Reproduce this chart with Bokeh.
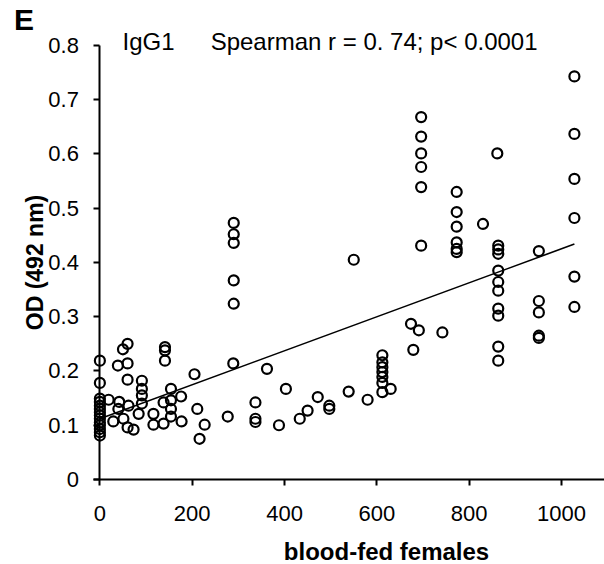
from bokeh.plotting import figure
from bokeh.models import Range1d, Label, FixedTicker, CustomJSTickFormatter
from bokeh.embed import file_html
from bokeh.resources import INLINE

# ---- data ----
blood_fed = [
    0, 0, 0, 0, 0, 0, 0, 0, 0, 0, 0, 0, 0, 0,
    19, 29, 39, 40, 42, 50, 51, 60, 60, 60, 62, 60, 73, 84,
    91, 91, 91, 91, 116, 116, 138, 138, 141, 141, 141,
    154, 154, 154, 154, 176, 177, 205, 211, 216, 227, 277, 289,
    290, 290, 290, 290, 290,
    337, 337, 337, 362, 388, 403, 433, 450, 472, 497, 497, 539, 550, 580,
    612, 612, 612, 612, 612, 612, 612, 630, 674, 679, 691,
    696, 696, 696, 696, 696, 696, 742,
    773, 773, 773, 773, 773, 773, 830, 861,
    863, 863, 863, 863, 863, 863, 863, 863, 863, 863,
    951, 951, 951, 951, 951,
    1028, 1028, 1028, 1028, 1028, 1028,
]
od_492 = [
    0.219, 0.178, 0.149, 0.143, 0.136, 0.130, 0.124, 0.118, 0.112, 0.105, 0.100, 0.093, 0.087, 0.081,
    0.147, 0.107, 0.210, 0.130, 0.143, 0.240, 0.112, 0.250, 0.214, 0.184, 0.136, 0.096, 0.092, 0.121,
    0.182, 0.167, 0.155, 0.140, 0.121, 0.101, 0.142, 0.103, 0.244, 0.238, 0.219,
    0.167, 0.146, 0.130, 0.116, 0.153, 0.107, 0.194, 0.130, 0.075, 0.101, 0.116, 0.214,
    0.473, 0.452, 0.436, 0.367, 0.324,
    0.142, 0.112, 0.106, 0.204, 0.100, 0.167, 0.112, 0.127, 0.152, 0.136, 0.130, 0.162, 0.405, 0.147,
    0.229, 0.216, 0.207, 0.198, 0.189, 0.178, 0.161, 0.167, 0.287, 0.239, 0.275,
    0.668, 0.632, 0.601, 0.576, 0.539, 0.431, 0.271,
    0.530, 0.493, 0.466, 0.437, 0.425, 0.419, 0.471, 0.601,
    0.431, 0.424, 0.416, 0.385, 0.364, 0.348, 0.315, 0.302, 0.245, 0.219,
    0.421, 0.329, 0.308, 0.265, 0.261,
    0.743, 0.637, 0.554, 0.482, 0.374, 0.318,
]
fit_x = [0, 1028]
fit_y = [0.112, 0.434]

x_ticks = [0, 200, 400, 600, 800, 1000]
y_ticks = [0, 0.1, 0.2, 0.3, 0.4, 0.5, 0.6, 0.7, 0.8]

panel_letter = "E"
isotype = "IgG1"
stats_text = "Spearman r = 0. 74; p< 0.0001"
x_title = "blood-fed females"
y_title = "OD (492 nm)"

FONT = "Liberation Sans"

# the frame covers the whole canvas; axes sit at fixed data locations
p = figure(width=604, height=564, output_backend="svg", toolbar_location=None,
           title_location=None,
           x_range=Range1d(-215.3, 1093.2), y_range=Range1d(-0.1567, 0.8829),
           min_border_left=0, min_border_right=0, min_border_top=0,
           min_border_bottom=0)

p.xgrid.visible = False
p.ygrid.visible = False
p.outline_line_color = None
p.background_fill_color = "white"
p.border_fill_color = "white"

p.xaxis.fixed_location = 0
p.yaxis.fixed_location = 0
p.xaxis.bounds = (-14, 1093.2)
p.yaxis.bounds = (0, 0.8)

for ax in (p.xaxis, p.yaxis):
    ax.axis_line_width = 2
    ax.axis_line_color = "black"
    ax.major_tick_line_width = 2
    ax.major_tick_line_color = "black"
    ax.major_tick_out = 6
    ax.major_tick_in = 0
    ax.minor_tick_line_color = None
    ax.major_label_text_font = FONT
    ax.major_label_text_font_size = "22px"
    ax.major_label_text_color = "black"
    ax.axis_label_text_font = FONT
    ax.axis_label_text_font_size = "23px"
    ax.axis_label_text_font_style = "bold"
    ax.axis_label_text_color = "black"

p.xaxis.ticker = FixedTicker(ticks=x_ticks)
p.yaxis.ticker = FixedTicker(ticks=y_ticks)
p.yaxis.formatter = CustomJSTickFormatter(
    code="return tick == 0 ? '0' : tick.toFixed(1);")
p.yaxis.axis_label = y_title
p.xaxis.major_label_standoff = 21
p.yaxis.major_label_standoff = 15
p.yaxis.axis_label_standoff = -3

p.line(fit_x, fit_y, line_color="black", line_width=1.6)
p.scatter(blood_fed, od_492, size=10, fill_color=None,
          line_color="black", line_width=2.2)

p.add_layout(Label(x=621, y=-0.1327, text=x_title, text_font=FONT,
                   text_font_size="24px", text_font_style="bold",
                   text_align="center", text_baseline="alphabetic",
                   text_color="black"))
p.add_layout(Label(x=-186, y=0.878, text=panel_letter, text_font=FONT,
                   text_font_size="30px", text_font_style="bold",
                   text_baseline="top", text_color="black"))
p.add_layout(Label(x=49, y=0.8074, text=isotype, text_font=FONT,
                   text_font_size="24px", text_baseline="alphabetic",
                   text_color="black"))
p.add_layout(Label(x=240, y=0.8074, text=stats_text, text_font=FONT,
                   text_font_size="24px", text_baseline="alphabetic",
                   text_color="black"))

open("out.html", "w").write(file_html(p, INLINE))
